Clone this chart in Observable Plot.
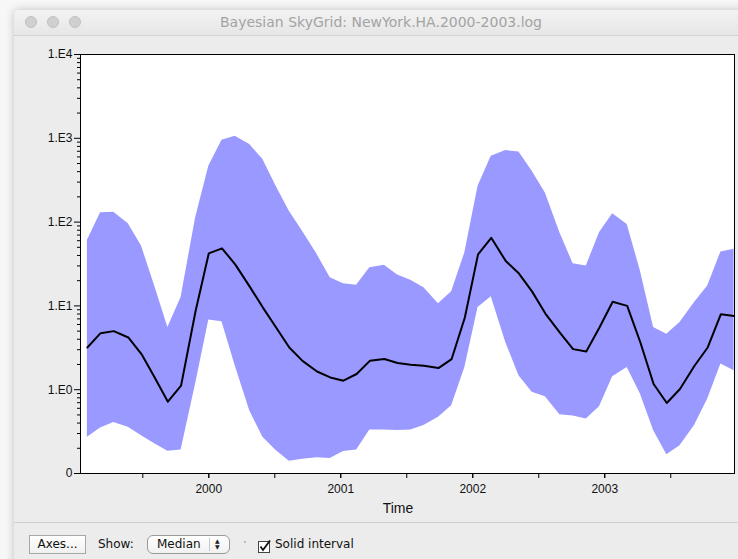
<!DOCTYPE html>
<html><head><meta charset="utf-8">
<script src="https://cdn.jsdelivr.net/npm/d3@7"></script>
<script src="https://cdn.jsdelivr.net/npm/@observablehq/plot@0.6"></script>
<style>
html,body{margin:0;padding:0;background:#fff;}
#stage{position:relative;width:738px;height:559px;overflow:hidden;background:#f7f7f7;font-family:"Liberation Sans",Arial,sans-serif;}
#win{position:absolute;left:14px;top:10px;width:800px;height:600px;background:#ececec;border-radius:5px 0 0 0;box-shadow:0 0 10px rgba(0,0,0,0.22);}
#titlebar{position:absolute;left:14px;top:10px;width:800px;height:25px;background:linear-gradient(#f3f3f3,#e6e6e6);border-bottom:1px solid #d2d2d2;border-radius:5px 0 0 0;}
.light{position:absolute;top:16px;width:12px;height:12px;border-radius:50%;background:#d0d0d0;border:0.5px solid #c0c0c0;box-sizing:border-box;}
#title{position:absolute;left:0;width:762px;top:14px;text-align:center;font-family:"DejaVu Sans",sans-serif;font-size:14px;color:#a3a3a3;}
#plot{position:absolute;left:0;top:0;}
#xlabel{position:absolute;left:0;width:796px;top:500px;text-align:center;font-size:14px;color:#111;}
#sep{position:absolute;left:14px;top:522px;width:800px;height:1px;background:#cfcfcf;}
.ui{position:absolute;font-family:"DejaVu Sans",sans-serif;font-size:12px;color:#111;}
#axesbtn{left:29px;top:535px;width:57px;height:19px;border:1px solid #a8a8a8;box-sizing:border-box;background:linear-gradient(#ffffff,#f0f0f0);text-align:center;line-height:17px;}
#showlbl{left:98px;top:537px;}
#popup{left:147px;top:535px;width:83px;height:19px;border:1px solid #9a9a9a;box-sizing:border-box;border-radius:6px;background:linear-gradient(#ffffff,#f1f1f1);line-height:17px;}
#popup .txt{position:absolute;left:9px;top:0;}
#popup .div{position:absolute;left:61px;top:2px;width:1px;height:13px;background:#c8c8c8;}
#popup .arr{position:absolute;left:67px;top:2px;font-size:6px;line-height:6px;color:#222;}
#dot{position:absolute;left:244px;top:541px;width:2px;height:2px;background:#bbb;}
#chk{position:absolute;left:258px;top:540px;}
#chklbl{left:275px;top:537px;}
</style></head>
<body>
<div id="stage">
  <div id="win"></div>
  <div id="titlebar"></div>
  <div class="light" style="left:25px"></div>
  <div class="light" style="left:47px"></div>
  <div class="light" style="left:69px"></div>
  <div id="title">Bayesian SkyGrid: NewYork.HA.2000-2003.log</div>
  <div id="plot"></div>
  <div id="xlabel">Time</div>
  <div id="sep"></div>
  <div class="ui" id="axesbtn">Axes...</div>
  <div class="ui" id="showlbl">Show:</div>
  <div class="ui" id="popup"><span class="txt">Median</span><span class="div"></span><span class="arr">▲<br>▼</span></div>
  <div id="dot"></div>
  <svg id="chk" width="14" height="14"><rect x="0.5" y="1.5" width="11" height="11" fill="#fff" stroke="#444"/><path d="M2.5 6.5 L5 10 L12 0.5" fill="none" stroke="#111" stroke-width="1.8"/></svg>
  <div class="ui" id="chklbl">Solid interval</div>
</div>
<script>
const times = [1999.08,1999.18,1999.28,1999.39,1999.49,1999.59,1999.69,1999.79,1999.90,2000.00,2000.10,2000.20,2000.31,2000.41,2000.51,2000.61,2000.71,2000.82,2000.92,2001.02,2001.12,2001.22,2001.33,2001.43,2001.53,2001.63,2001.74,2001.84,2001.94,2002.04,2002.14,2002.25,2002.35,2002.45,2002.55,2002.66,2002.76,2002.86,2002.96,2003.06,2003.17,2003.27,2003.37,2003.47,2003.57,2003.68,2003.78,2003.88,2003.98];
const median = [3.19,4.73,5.0,4.2,2.66,1.40,0.72,1.12,8.7,42.4,48.6,31.3,17.0,9.55,5.52,3.19,2.21,1.65,1.40,1.28,1.54,2.21,2.32,2.08,1.99,1.93,1.81,2.32,7.26,41.2,65.0,34.3,24.3,14.8,8.1,4.81,3.05,2.86,5.52,11.2,10.0,3.66,1.17,0.693,1.02,1.93,3.19,7.96,7.6];
const upper = [60.5,129,131.5,95.5,51.8,17.3,5.52,12.6,112,464,946,1057,841,557,268,135,78,41.2,21.7,18.4,17.6,28.6,30.5,23.4,20.2,16.5,10.6,14.8,43.1,268,611,713,687,405,223,74.6,31.9,29.9,74.6,126,93.8,26.1,5.52,4.6,6.34,11.0,17.3,44.0,47.3];
const lower = [0.27,0.35,0.405,0.356,0.283,0.226,0.184,0.191,1.17,6.81,6.45,1.93,0.56,0.27,0.188,0.14,0.148,0.154,0.151,0.183,0.191,0.331,0.331,0.325,0.331,0.373,0.468,0.645,1.84,9.55,12.9,3.66,1.47,0.93,0.826,0.503,0.487,0.448,0.628,1.43,1.84,0.888,0.325,0.167,0.215,0.373,0.774,2.02,1.68];
const yTicks = [0.1,1,10,100,1000,10000];
const yTickLabels = ["0","1.E0","1.E1","1.E2","1.E3","1.E4"];
const xYearTicks = [2000,2001,2002,2003];
const xHalfTicks = [1999.5,2000,2000.5,2001,2001.5,2002,2002.5,2003,2003.5];
const xDomain = [1999.028,2003.983];
const yDomain = [0.1,10000];

const data = times.map((t,i)=>({t, med: median[i], lo: lower[i], hi: upper[i]}));
const yMinor = d3.scaleLog().domain(yDomain).ticks().filter(v => !yTicks.includes(v));

const chart = Plot.plot({
  width: 738, height: 559,
  marginLeft: 80, marginRight: 4, marginTop: 54, marginBottom: 86,
  style: {background: "transparent", fontFamily: "'Liberation Sans', Arial, sans-serif", fontSize: "12px", color: "#111", overflow: "visible"},
  x: {domain: xDomain, label: null},
  y: {type: "log", domain: yDomain, label: null},
  marks: [
    Plot.frame({fill: "white", stroke: "none"}),
    Plot.areaY(data, {x: "t", y1: "lo", y2: "hi", fill: "#9999ff", fillOpacity: 1, curve: "linear"}),
    Plot.lineY(data, {x: "t", y: "med", stroke: "black", strokeWidth: 2, curve: "linear"}),
    Plot.frame({stroke: "black", strokeWidth: 1}),
    Plot.axisY({ticks: yMinor, tickSize: 3, tickFormat: () => "", label: null, stroke: "black", strokeOpacity: 1}),
    Plot.axisY({ticks: yTicks, tickSize: 6, tickPadding: 2, tickFormat: d => yTickLabels[yTicks.indexOf(d)], label: null, fontSize: 12, stroke: "black", strokeOpacity: 1}),
    Plot.axisX({ticks: xHalfTicks, tickSize: 5, tickFormat: () => "", label: null, stroke: "black", strokeOpacity: 1}),
    Plot.axisX({ticks: xYearTicks, tickSize: 5, tickPadding: 6, tickFormat: d => String(d), label: null, fontSize: 12, stroke: "black", strokeOpacity: 1})
  ]
});
document.getElementById("plot").appendChild(chart);
</script>
</body></html>
